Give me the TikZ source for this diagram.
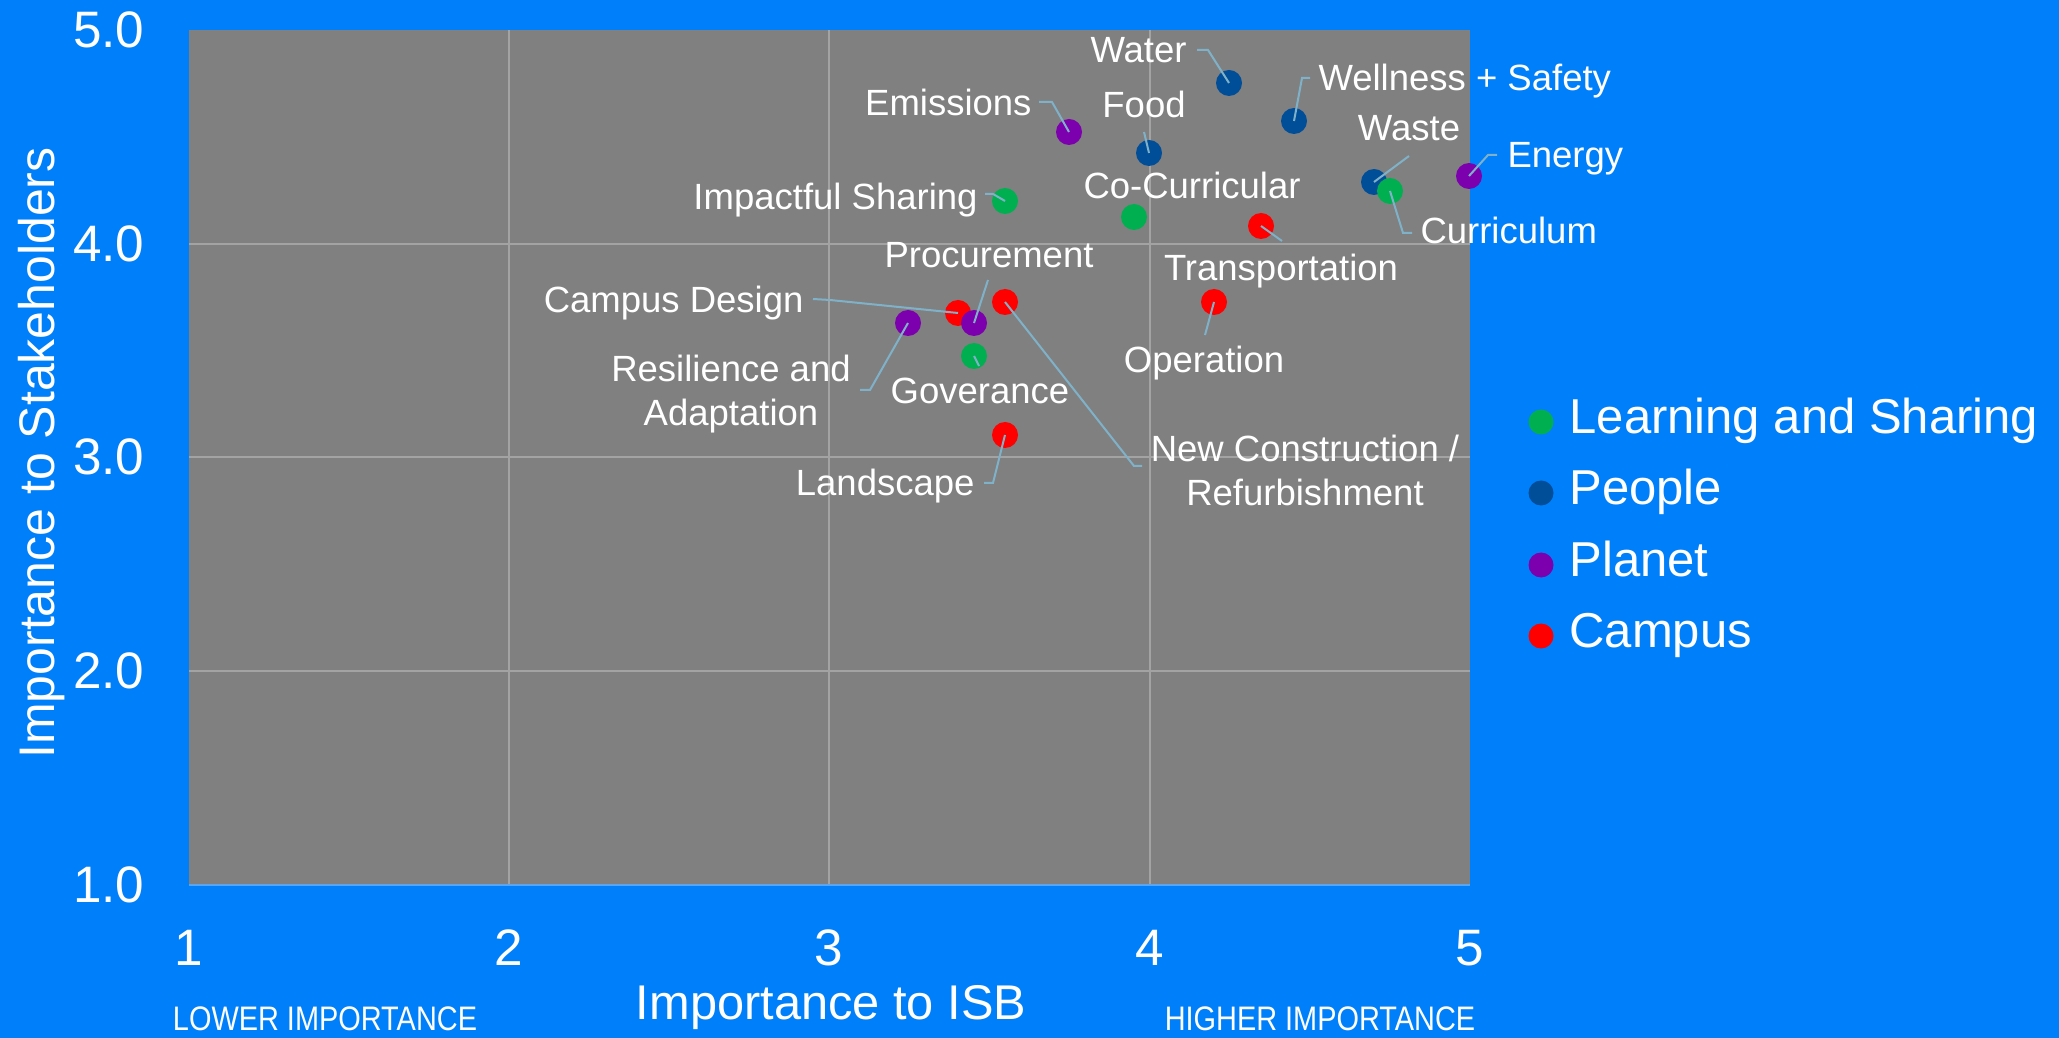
\documentclass[tikz,border=0pt]{standalone}
\usepackage{fontspec}
\setmainfont{Liberation Sans}
\newfontfamily\condf[FakeStretch=0.85]{Liberation Sans}
\definecolor{bgblue}{HTML}{007FFA}
\definecolor{plotgray}{HTML}{808080}
\definecolor{gridc}{HTML}{A3A3A3}
\definecolor{lgreen}{HTML}{00B050}
\definecolor{pblue}{HTML}{004E98}
\definecolor{ppurple}{HTML}{7D00AE}
\definecolor{cred}{HTML}{FF0000}
\definecolor{leadc}{HTML}{7FB2C8}
\definecolor{axisc}{HTML}{5AA5F0}
\tikzset{
  dotn/.style={circle, inner sep=0pt, minimum size=10.4pt, fill=#1},
  legdot/.style={circle, inner sep=0pt, minimum size=10pt, fill=#1},
  lbl/.style={text=white, inner sep=0pt, font=\fontsize{14.6}{17.6}\selectfont},
  ticklbl/.style={text=white, inner sep=0pt, font=\fontsize{20.5}{24}\selectfont},
  leglbl/.style={text=white, inner sep=0pt, anchor=mid west, font=\fontsize{19.6}{24}\selectfont},
  smallcap/.style={text=white, inner sep=0pt, font=\condf\fontsize{13.6}{16}\selectfont},
  lead/.style={draw=leadc, line width=0.8pt},
  gridln/.style={draw=gridc, line width=0.6pt}
}
\begin{document}
\begin{tikzpicture}[x=0.4pt,y=-0.4pt]
\useasboundingbox (0,0) rectangle (2059,1038);
\fill[bgblue] (0,0) rectangle (2059,1038);
\fill[plotgray] (189,30) rectangle (1470,885);
% grid
\foreach \x in {509,829,1150} \draw[gridln] (\x,30) -- (\x,885);
\foreach \y in {244,457,671} \draw[gridln] (189,\y) -- (1470,\y);
\draw[axisc, line width=0.8pt] (189,885) -- (1470,885);
% y ticks
\foreach \i/\y in {5/30,4/244,3/457,2/671,1/885}
  \node[ticklbl, anchor=east] (yt\i) at (145,\y) {\i.0};
% x ticks
\foreach \i/\x in {1/189,2/509,3/829,4/1150,5/1470}
  \node[ticklbl] (xt\i) at (\x,948) {\i};
% axis titles
\node[text=white, inner sep=0pt, rotate=90, anchor=base, font=\fontsize{20}{24}\selectfont] (ytitle) at (54,453) {Importance to Stakeholders};
\node[text=white, inner sep=0pt, anchor=mid, font=\fontsize{19.5}{24}\selectfont] (xtitle) at (831,1013) {Importance to ISB};
\node[smallcap, anchor=mid] (lowimp) at (325,1024) {LOWER IMPORTANCE};
\node[smallcap, anchor=mid] (highimp) at (1320,1024) {HIGHER IMPORTANCE};
% data points
\node[dotn=pblue] (water) at (1229,83) {};
\node[dotn=pblue] (well) at (1294,121) {};
\node[dotn=ppurple] (emis) at (1069,132) {};
\node[dotn=pblue] (food) at (1149,153) {};
\node[dotn=pblue] (waste) at (1374,182) {};
\node[dotn=lgreen] (curr) at (1390,191) {};
\node[dotn=ppurple] (energy) at (1469,176) {};
\node[dotn=lgreen] (impact) at (1005,201) {};
\node[dotn=lgreen] (cocur) at (1134,217) {};
\node[dotn=cred] (transp) at (1261,226) {};
\node[dotn=cred] (campus) at (958,313) {};
\node[dotn=ppurple] (procure) at (974,323) {};
\node[dotn=cred] (newc) at (1005,302) {};
\node[dotn=ppurple] (resil) at (908,323) {};
\node[dotn=lgreen] (gov) at (974,356) {};
\node[dotn=cred] (oper) at (1214,302) {};
\node[dotn=cred] (land) at (1005,435) {};
% leader free ends
\coordinate (wa1) at (1197,50); \coordinate (wa2) at (1208,50);
\coordinate (we1) at (1310,78); \coordinate (we2) at (1302,78);
\coordinate (em1) at (1039,102); \coordinate (em2) at (1052,102);
\coordinate (fo1) at (1144,132);
\coordinate (ws1) at (1409,156);
\coordinate (en1) at (1497,155); \coordinate (en2) at (1488,155);
\coordinate (cu1) at (1412,233); \coordinate (cu2) at (1403,233);
\coordinate (im1) at (985,194); \coordinate (im2) at (993,194);
\coordinate (tr1) at (1282,241);
\coordinate (pr1) at (988,280);
\coordinate (cd1) at (813,299); \coordinate (cd2) at (830,300);
\coordinate (re1) at (860,390); \coordinate (re2) at (870,390);
\coordinate (go1) at (979,366);
\coordinate (op1) at (1205,335);
\coordinate (la1) at (984,483); \coordinate (la2) at (993,483);
\coordinate (nc1) at (1142,466); \coordinate (nc2) at (1134,466);
% leaders
\draw[lead] (wa1) -- (wa2) -- (water.center);
\draw[lead] (we1) -- (we2) -- (well.center);
\draw[lead] (em1) -- (em2) -- (emis.center);
\draw[lead] (fo1) -- (food.center);
\draw[lead] (ws1) -- (waste.center);
\draw[lead] (en1) -- (en2) -- (energy.center);
\draw[lead] (cu1) -- (cu2) -- (curr.center);
\draw[lead] (im1) -- (im2) -- (impact.center);
\draw[lead] (tr1) -- (transp.center);
\draw[lead] (pr1) -- (procure.center);
\draw[lead] (cd1) -- (cd2) -- (campus.center);
\draw[lead] (re1) -- (re2) -- (resil.center);
\draw[lead] (gov.center) -- (go1);
\draw[lead] (op1) -- (oper.center);
\draw[lead] (la1) -- (la2) -- (land.center);
\draw[lead] (nc1) -- (nc2) -- (newc.center);
% labels
\node[lbl, anchor=mid east] (waterl) at (1187,56) {Water};
\node[lbl, anchor=mid west] (welll) at (1318,84) {Wellness + Safety};
\node[lbl, anchor=mid east] (emisl) at (1032,109) {Emissions};
\node[lbl, anchor=mid] (foodl) at (1144,111) {Food};
\node[lbl, anchor=mid] (wastel) at (1409,134) {Waste};
\node[lbl, anchor=mid west] (energyl) at (1507,161) {Energy};
\node[lbl, anchor=mid west] (currl) at (1420,237) {Curriculum};
\node[lbl, anchor=mid east] (impactl) at (978,203) {Impactful Sharing};
\node[lbl, anchor=mid] (cocurl) at (1192,192) {Co-Curricular};
\node[lbl, anchor=mid] (transpl) at (1281,274) {Transportation};
\node[lbl, anchor=mid] (procurel) at (989,261) {Procurement};
\node[lbl, anchor=mid east] (campusl) at (804,306) {Campus Design};
\node[lbl, align=center] (resill) at (731,394) {Resilience and\\Adaptation};
\node[lbl, anchor=mid] (govl) at (980,397) {Goverance};
\node[lbl, anchor=mid] (operl) at (1204,366) {Operation};
\node[lbl, anchor=mid east] (landl) at (975,489) {Landscape};
\node[lbl, align=center] (newcl) at (1305,470) {New Construction /\\Refurbishment};
% legend
\node[legdot=lgreen] (lg1) at (1541,422) {};
\node[legdot=pblue] (lg2) at (1541,493) {};
\node[legdot=ppurple] (lg3) at (1541,565) {};
\node[legdot=cred] (lg4) at (1541,636) {};
\node[leglbl] (lt1) at (1569,427) {Learning and Sharing};
\node[leglbl] (lt2) at (1569,498) {People};
\node[leglbl] (lt3) at (1569,570) {Planet};
\node[leglbl] (lt4) at (1569,641) {Campus};
\end{tikzpicture}
\end{document}
